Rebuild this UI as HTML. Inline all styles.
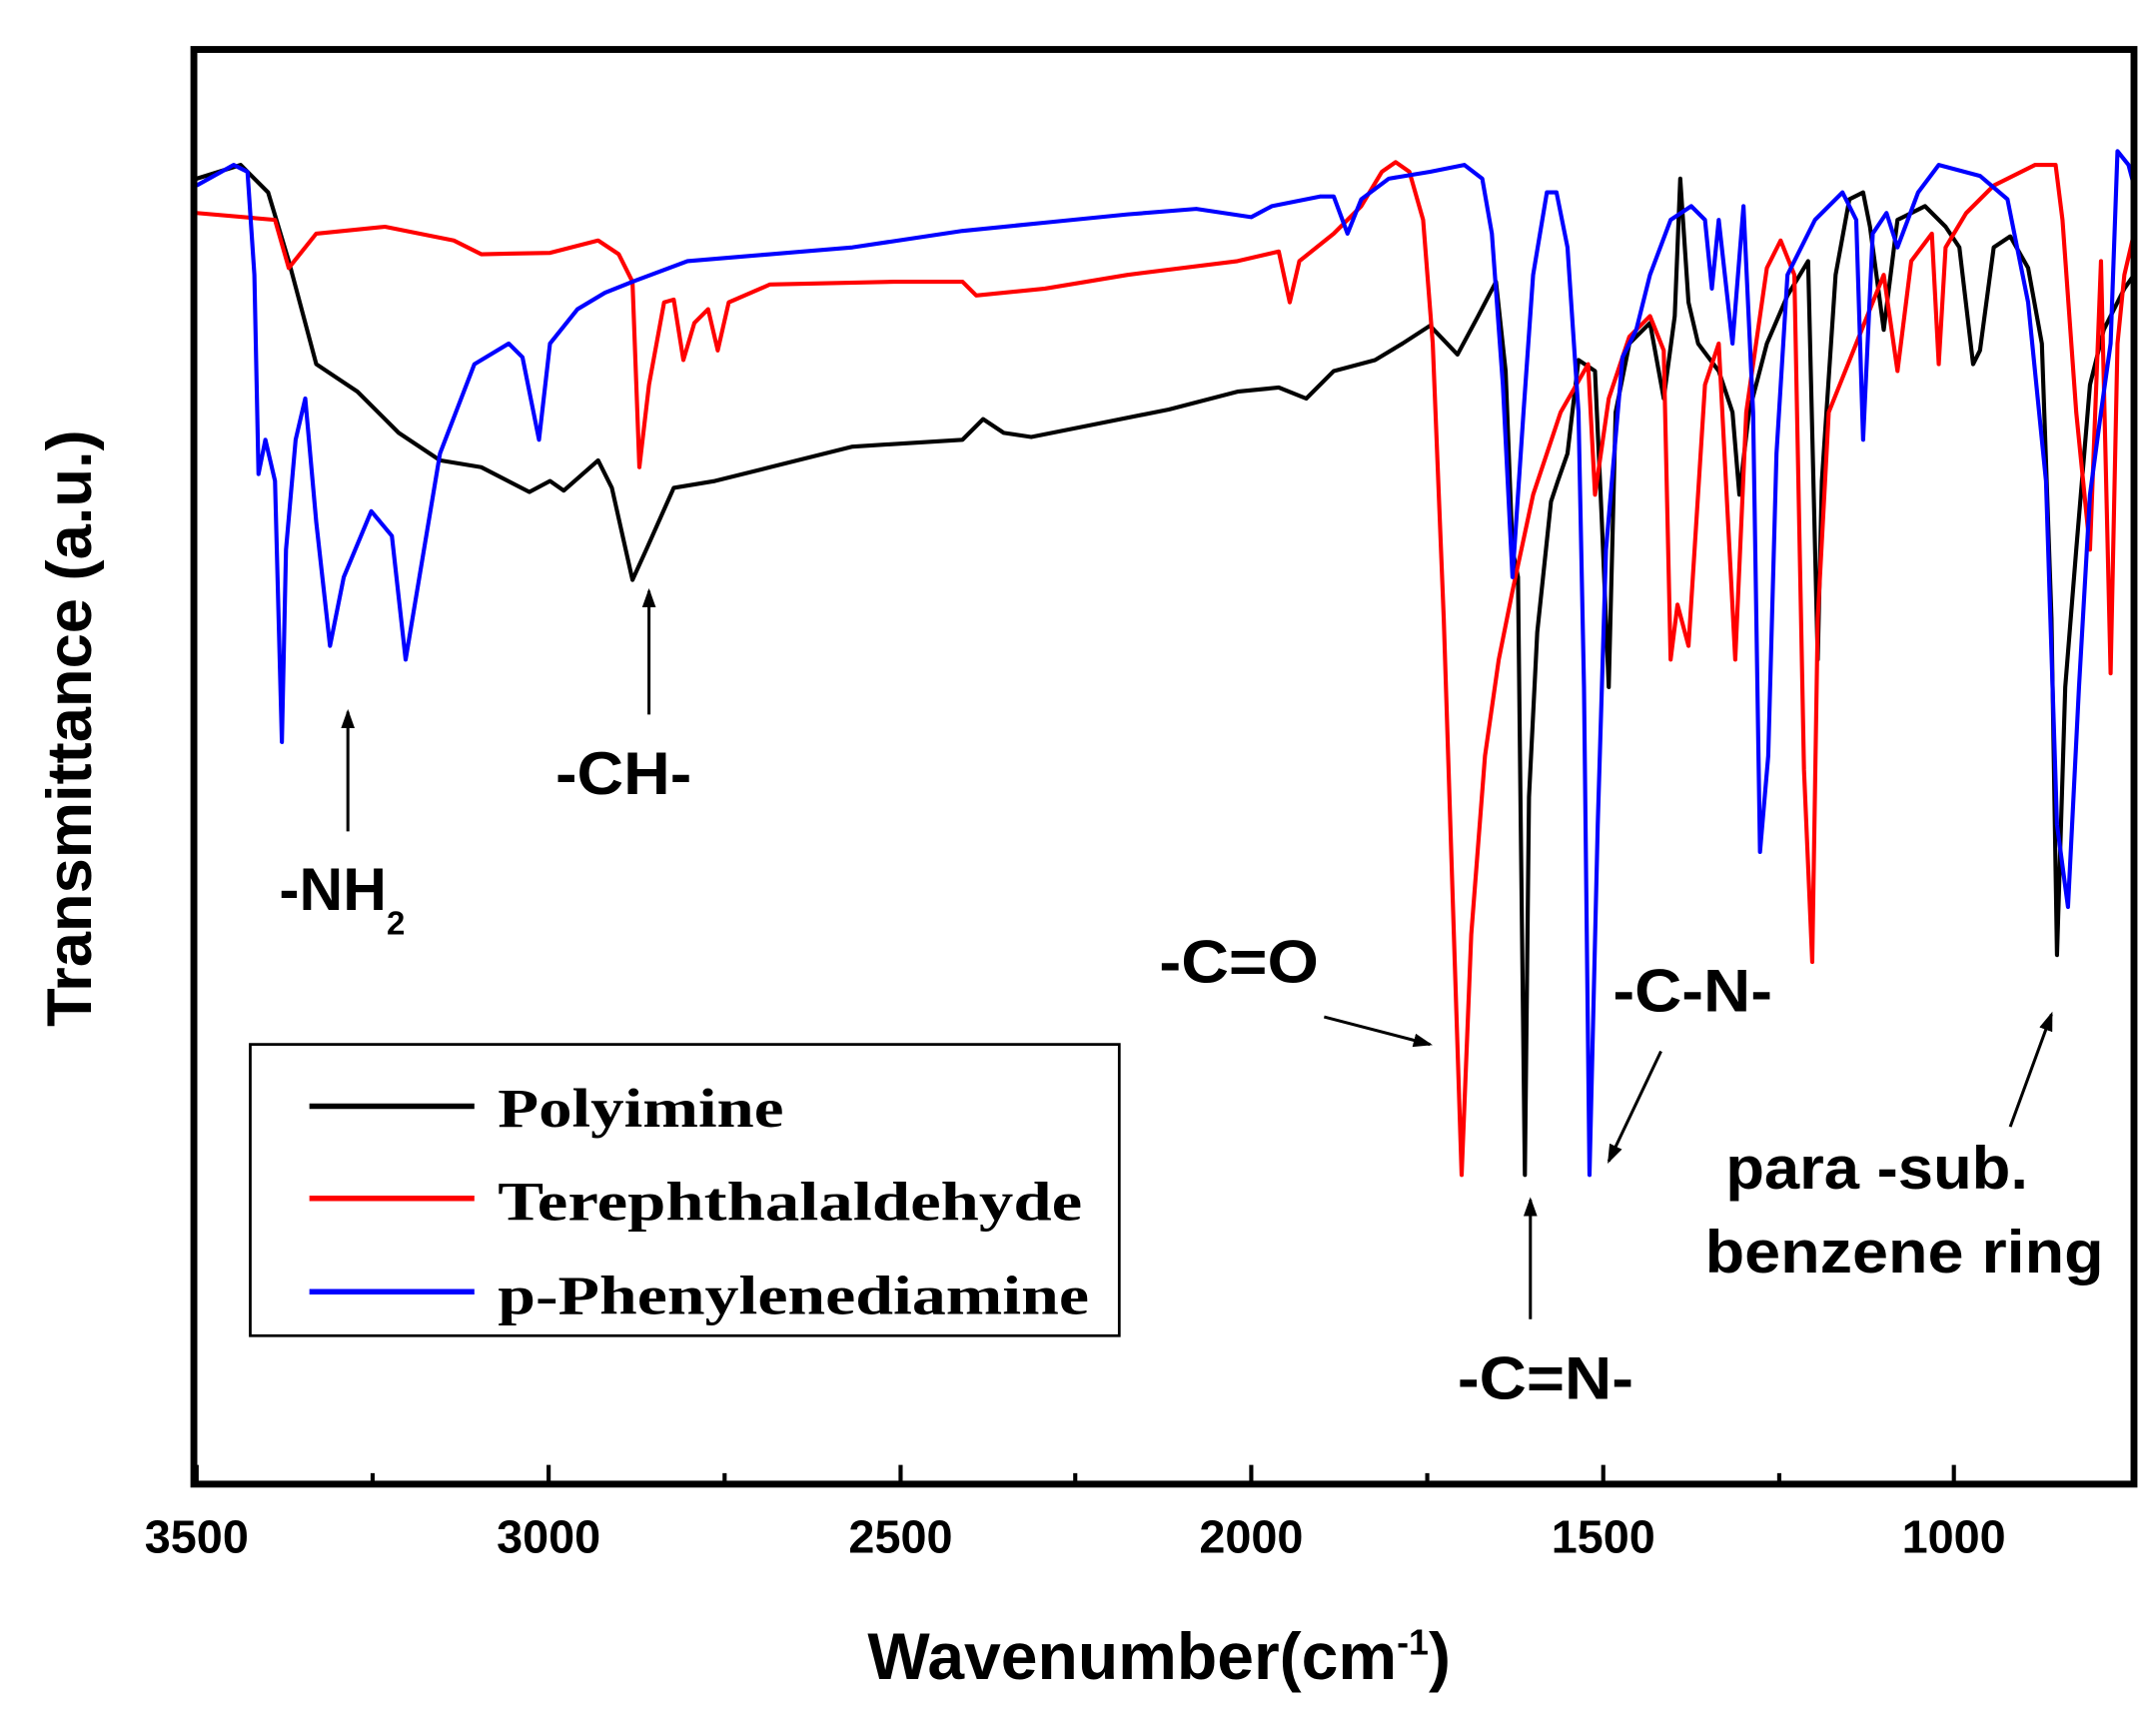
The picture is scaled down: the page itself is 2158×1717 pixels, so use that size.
<!DOCTYPE html>
<html><head><meta charset="utf-8"><style>
html,body{margin:0;padding:0;background:#fff}
svg{display:block}
.t{font-family:"Liberation Sans",sans-serif;font-weight:bold;fill:#000}
.s{font-family:"Liberation Serif",serif;font-weight:bold;fill:#000}
</style></head><body>
<svg width="2158" height="1717" viewBox="0 0 1568 1248" preserveAspectRatio="none" xmlns="http://www.w3.org/2000/svg">
<defs><marker id="a" markerWidth="20" markerHeight="20" refX="12" refY="5" orient="auto" markerUnits="userSpaceOnUse"><path d="M0,0 L14,5 L0,10 Z" fill="#000"/></marker></defs>
<g fill="none" stroke-width="3" stroke-linejoin="round">
<polyline stroke="#000" points="143,130 175,120 195,140 210,190 230,265 260,285 290,315 320,335 350,340 385,358 400,350 410,357 435,335 445,355 460,422 470,400 490,355 520,350 560,340 620,325 700,320 715,305 730,315 750,318 800,308 850,298 900,285 930,282 950,290 970,270 1000,262 1020,250 1040,237 1060,258 1075,230 1088,205 1095,270 1100,400 1104,420 1106,600 1109,855 1112,580 1118,460 1128,365 1133,350 1140,330 1148,262 1160,270 1165,380 1170,500 1175,300 1185,250 1200,235 1210,290 1218,230 1222,130 1228,220 1235,250 1250,270 1260,300 1265,360 1272,300 1285,250 1300,215 1315,190 1322,480 1325,350 1335,200 1345,145 1355,140 1360,165 1370,240 1380,160 1400,150 1415,165 1425,180 1435,265 1440,255 1450,180 1462,172 1475,195 1485,250 1492,450 1496,695 1502,500 1510,400 1520,280 1530,240 1545,210 1552,200"/>
<polyline stroke="#f00" points="143,155 200,160 210,195 230,170 280,165 330,175 350,185 400,184 435,175 450,185 460,205 465,340 472,280 483,220 490,218 497,262 505,235 515,225 522,255 530,220 560,207 650,205 700,205 710,215 760,210 820,200 900,190 930,183 938,220 945,190 970,170 990,150 1005,125 1015,118 1025,125 1035,160 1042,250 1050,450 1058,700 1063,855 1070,680 1080,550 1090,480 1100,430 1115,360 1135,300 1155,265 1160,360 1170,290 1185,245 1200,230 1210,255 1215,480 1220,440 1228,470 1240,280 1250,250 1262,480 1270,300 1285,195 1295,175 1305,200 1312,560 1318,700 1322,450 1330,300 1350,250 1370,200 1380,270 1390,190 1405,170 1410,265 1415,180 1430,155 1450,135 1480,120 1495,120 1500,160 1510,300 1520,400 1528,190 1535,490 1540,250 1545,200 1552,170"/>
<polyline stroke="#00f" points="143,135 170,120 180,125 185,200 188,345 193,320 200,350 205,540 208,400 215,320 222,290 230,380 240,470 250,420 270,372 285,390 295,480 305,420 320,330 345,265 370,250 380,260 392,320 400,250 420,225 440,213 460,205 500,190 560,185 620,180 700,168 760,162 820,156 870,152 910,158 925,150 960,143 970,143 980,170 990,145 1010,130 1040,125 1065,120 1078,130 1085,170 1093,280 1100,420 1108,300 1115,200 1125,140 1132,140 1140,180 1148,300 1152,500 1156,855 1162,600 1168,400 1180,260 1190,240 1200,200 1215,160 1230,150 1240,160 1245,210 1250,160 1260,250 1268,150 1275,300 1280,620 1286,550 1292,330 1300,200 1320,160 1340,140 1350,160 1355,320 1362,170 1372,155 1380,180 1395,140 1410,120 1440,128 1460,145 1475,220 1488,350 1496,600 1504,660 1512,500 1520,360 1528,300 1535,250 1540,110 1548,120 1552,135"/>
</g>
<rect x="141" y="36" width="1411" height="1044" fill="none" stroke="#000" stroke-width="5"/>
<g stroke="#000" stroke-width="3">
<path d="M143,1080v-14M399,1080v-14M655,1080v-14M910,1080v-14M1166,1080v-14M1421,1080v-14M271,1080v-8M527,1080v-8M782,1080v-8M1038,1080v-8M1294,1080v-8"/>
</g>
<g class="t" font-size="34" text-anchor="middle">
<text x="143" y="1130">3500</text><text x="399" y="1130">3000</text><text x="655" y="1130">2500</text><text x="910" y="1130">2000</text><text x="1166" y="1130">1500</text><text x="1421" y="1130">1000</text>
</g>
<text class="t" x="843" y="1222" font-size="48" text-anchor="middle">Wavenumber(cm<tspan dy="-18" font-size="26">-1</tspan><tspan dy="18">)</tspan></text>
<text class="t" transform="translate(66,530) rotate(-90)" font-size="46" text-anchor="middle">Transmittance (a.u.)</text>
<rect x="182" y="760" width="632" height="212" fill="#fff" stroke="#000" stroke-width="2"/>
<g stroke-width="4"><line x1="225" y1="805" x2="345" y2="805" stroke="#000"/><line x1="225" y1="872" x2="345" y2="872" stroke="#f00"/><line x1="225" y1="940" x2="345" y2="940" stroke="#00f"/></g>
<g class="s" font-size="40">
<text x="362" y="820" textLength="208" lengthAdjust="spacingAndGlyphs">Polyimine</text><text x="362" y="888" textLength="425" lengthAdjust="spacingAndGlyphs">Terephthalaldehyde</text><text x="362" y="956" textLength="430" lengthAdjust="spacingAndGlyphs">p-Phenylenediamine</text>
</g>
<g class="t" font-size="44">
<text x="203" y="662">-NH<tspan dy="18" font-size="24">2</tspan></text>
<text x="404" y="578" textLength="99" lengthAdjust="spacingAndGlyphs">-CH-</text>
<text x="843" y="715" textLength="116" lengthAdjust="spacingAndGlyphs">-C=O</text>
<text x="1173" y="736" textLength="116" lengthAdjust="spacingAndGlyphs">-C-N-</text>
<text x="1060" y="1018" textLength="128" lengthAdjust="spacingAndGlyphs">-C=N-</text>
<text x="1255" y="865" textLength="220" lengthAdjust="spacingAndGlyphs">para -sub.</text>
<text x="1240" y="926" textLength="290" lengthAdjust="spacingAndGlyphs">benzene ring</text>
</g>
<g stroke="#000" stroke-width="2.2" marker-end="url(#a)">
<line x1="253" y1="605" x2="253" y2="518"/>
<line x1="472" y1="520" x2="472" y2="430"/>
<line x1="963" y1="740" x2="1040" y2="760"/>
<line x1="1208" y1="765" x2="1170" y2="845"/>
<line x1="1113" y1="960" x2="1113" y2="873"/>
<line x1="1462" y1="820" x2="1492" y2="738"/>
</g>
</svg>
</body></html>
